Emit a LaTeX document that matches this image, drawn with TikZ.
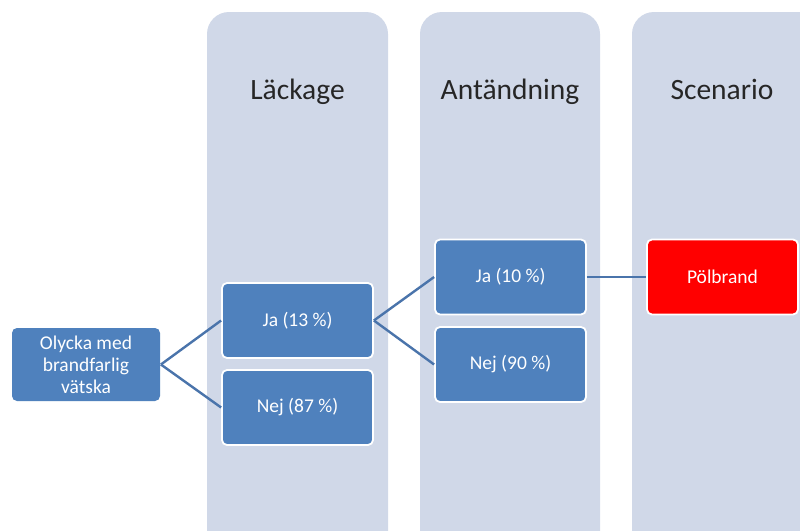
\documentclass[tikz,border=0pt]{standalone}
\usepackage{fontspec}
\setmainfont{Carlito}
\definecolor{colbg}{HTML}{D0D8E8}
\definecolor{boxblue}{HTML}{4F81BD}
\definecolor{lineblue}{HTML}{4A74AB}
\definecolor{boxred}{HTML}{FF0000}
\begin{document}
\begin{tikzpicture}[x=1pt,y=-1pt,
  column/.style={fill=colbg,draw=none,rounded corners=22pt},
  head/.style={font=\fontsize{29.5}{34}\selectfont,text=black!85,anchor=base},
  box/.style={fill=boxblue,draw=white,line width=1.8pt,rounded corners=5pt,
    minimum width=151pt,minimum height=75pt,inner sep=0pt,text=white,
    font=\fontsize{19.5}{22}\selectfont,align=center},
  redbox/.style={box,fill=boxred},
  conn/.style={draw=lineblue,line width=2.4pt}]
\useasboundingbox (0,0) rectangle (800,530);
\clip (0,0) rectangle (800,530);
\fill[white] (0,0) rectangle (800,530);
\path[column] (207,12) rectangle (388,560);
\path[column] (420,12) rectangle (600,560);
\path[column] (632,12) rectangle (840,560);
\node[head] (h1) at (297.5,99) {Läckage};
\node[head] (h2) at (510,99) {Antändning};
\node[head] (h3) at (722,99) {Scenario};
\node[box,minimum width=148pt,minimum height=73pt,draw=none] (olycka) at (86,364.5) {Olycka med\\brandfarlig\\vätska};
\node[box] (ja1) at (297.5,320.5) {Ja (13 \%)};
\node[box] (nej1) at (297.5,407.5) {Nej (87 \%)};
\node[box] (ja2) at (510.5,277) {Ja (10 \%)};
\node[box] (nej2) at (510.5,364.5) {Nej (90 \%)};
\node[redbox] (pol) at (722.5,277) {Pölbrand};
\draw[conn] (olycka.east) -- (ja1.west);
\draw[conn] (olycka.east) -- (nej1.west);
\draw[conn] (ja1.east) -- (ja2.west);
\draw[conn] (ja1.east) -- (nej2.west);
\draw[conn] (ja2.east) -- (pol.west);
\end{tikzpicture}
\end{document}
